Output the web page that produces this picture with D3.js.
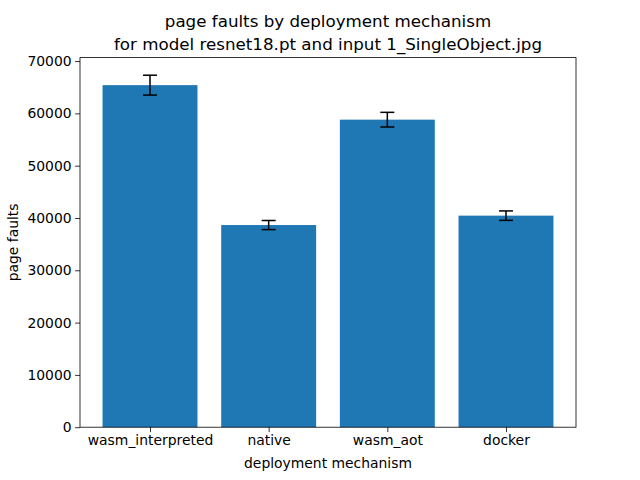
<!DOCTYPE html>
<html>
<head>
<meta charset="utf-8">
<script src="https://cdn.jsdelivr.net/npm/d3@7"></script>
<style>
  body { margin: 0; background: #fff; }
  svg text { font-family: "DejaVu Sans", sans-serif; fill: #000; }
</style>
</head>
<body>
<div id="chart"></div>
<script>
  // values
  const mechanisms = ['wasm_interpreted', 'native', 'wasm_aot', 'docker'];
  const pageFaults = [65400, 38650, 58800, 40450];
  const pageFaultsErr = [1900, 870, 1400, 900];
  const yTicks = [0, 10000, 20000, 30000, 40000, 50000, 60000, 70000];

  const width = 640, height = 480;
  const margin = {top: 57.6, right: 64, bottom: 52.8, left: 80};
  const plotW = width - margin.left - margin.right,
      plotH = height - margin.top - margin.bottom;

  const svg = d3.select('#chart')
      .append('svg')
      .attr('width', width)
      .attr('height', height);

  // matplotlib style autoscale: 5% margins
  const barWidth = 0.8;
  const xMin = -barWidth / 2, xMax = mechanisms.length - 1 + barWidth / 2;
  const xPad = (xMax - xMin) * 0.05;
  const x = d3.scaleLinear()
      .domain([xMin - xPad, xMax + xPad])
      .range([0, plotW]);

  const yTop = d3.max(pageFaults, (d, i) => d + pageFaultsErr[i]) * 1.05;
  const y = d3.scaleLinear()
      .domain([0, yTop])
      .range([plotH, 0]);

  const g = svg.append('g')
      .attr('transform', 'translate(' + margin.left + ',' + margin.top + ')');

  g.selectAll('rect.bar')
      .data(pageFaults)
      .enter()
      .append('rect')
      .attr('class', 'bar')
      .attr('x', (d, i) => x(i - barWidth / 2))
      .attr('width', (d, i) => x(i + barWidth / 2) - x(i - barWidth / 2))
      .attr('y', d => y(d))
      .attr('height', d => y(0) - y(d))
      .attr('fill', '#1f77b4');

  // error bars
  const capHalf = 7;
  const err = g.selectAll('g.err')
      .data(pageFaults)
      .enter()
      .append('g')
      .attr('class', 'err')
      .attr('stroke', '#000')
      .attr('stroke-width', 1.5);

  err.append('line')
      .attr('x1', (d, i) => x(i))
      .attr('x2', (d, i) => x(i))
      .attr('y1', (d, i) => y(d - pageFaultsErr[i]))
      .attr('y2', (d, i) => y(d + pageFaultsErr[i]));
  err.append('line')
      .attr('x1', (d, i) => x(i) - capHalf)
      .attr('x2', (d, i) => x(i) + capHalf)
      .attr('y1', (d, i) => y(d - pageFaultsErr[i]))
      .attr('y2', (d, i) => y(d - pageFaultsErr[i]));
  err.append('line')
      .attr('x1', (d, i) => x(i) - capHalf)
      .attr('x2', (d, i) => x(i) + capHalf)
      .attr('y1', (d, i) => y(d + pageFaultsErr[i]))
      .attr('y2', (d, i) => y(d + pageFaultsErr[i]));

  // axes
  const xAxis = d3.axisBottom(x)
      .tickValues(d3.range(mechanisms.length))
      .tickFormat(i => mechanisms[i])
      .tickSizeOuter(0)
      .tickSize(4.9)
      .tickPadding(3.5);
  const yAxis = d3.axisLeft(y)
      .tickValues(yTicks)
      .tickFormat(d3.format('d'))
      .tickSizeOuter(0)
      .tickSize(4.9)
      .tickPadding(3.5);

  const gx = g.append('g')
      .attr('transform', 'translate(0,' + plotH + ')')
      .call(xAxis);
  const gy = g.append('g').call(yAxis);

  [gx, gy].forEach(a => {
    a.select('.domain').remove();
    a.selectAll('.tick line').attr('stroke', '#000').attr('stroke-width', 0.8);
    a.selectAll('.tick text')
        .style('font-family', '"DejaVu Sans", sans-serif')
        .style('font-size', '13.9px')
        .attr('fill', '#000');
  });

  // frame
  g.append('rect')
      .attr('width', plotW)
      .attr('height', plotH)
      .attr('fill', 'none')
      .attr('stroke', '#000')
      .attr('stroke-width', 0.8);

  // labels
  svg.append('text')
      .attr('x', margin.left + plotW / 2)
      .attr('y', 468)
      .attr('text-anchor', 'middle')
      .style('font-size', '13.9px')
      .text('deployment mechanism');

  svg.append('text')
      .attr('transform', 'translate(18,' + (margin.top + plotH / 2) + ') rotate(-90)')
      .attr('text-anchor', 'middle')
      .style('font-size', '13.9px')
      .text('page faults');

  const title = svg.append('text')
      .attr('x', margin.left + plotW / 2)
      .attr('text-anchor', 'middle')
      .style('font-size', '16.7px');
  title.append('tspan')
      .attr('x', margin.left + plotW / 2)
      .attr('y', 27)
      .text('page faults by deployment mechanism');
  title.append('tspan')
      .attr('x', margin.left + plotW / 2)
      .attr('y', 50)
      .text('for model resnet18.pt and input 1_SingleObject.jpg');
</script>
</body>
</html>
